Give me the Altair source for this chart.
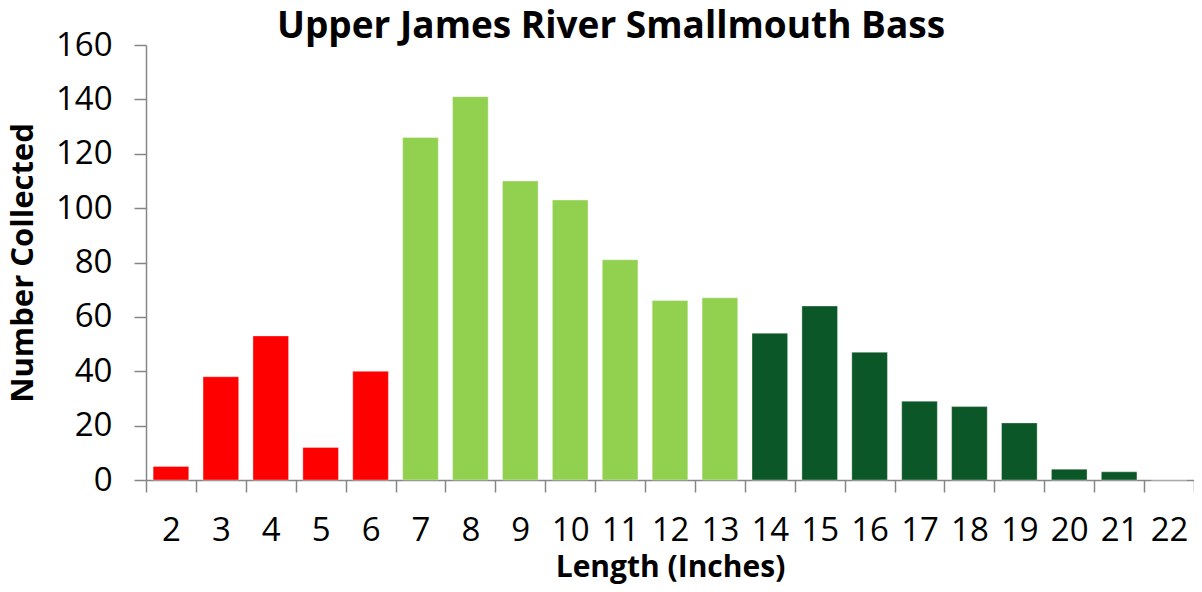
import altair as alt
import pandas as pd

lengths = [str(i) for i in range(2, 23)]
counts = [5, 38, 53, 12, 40, 126, 141, 110, 103, 81, 66, 67, 54, 64, 47, 29, 27, 21, 4, 3, 0]
groups = ["small"] * 5 + ["mid"] * 7 + ["large"] * 9
group_names = ["small", "mid", "large"]
group_colors = ["#FF0000", "#92D050", "#0C5727"]

df = pd.DataFrame({"Length": lengths, "Count": counts, "Group": groups})

FONT = "Open Sans"

chart = alt.Chart(df).mark_bar(stroke="white", strokeOpacity=0.35, strokeWidth=1,
                               width=alt.RelativeBandSize(0.714)).encode(
    x=alt.X("Length:N", sort=lengths,
            scale=alt.Scale(paddingInner=0, paddingOuter=0),
            axis=alt.Axis(title="Length (Inches)", labelAngle=0, tickBand="extent",
                          labelFontSize=33, titleFontSize=30, titleFontWeight="bold",
                          labelPadding=22, titlePadding=5, tickSize=12,
                          labelOverlap=False, labelFlush=False,
                          domainColor="#868686", tickColor="#868686",
                          domainWidth=1.5, tickWidth=1.5,
                          labelColor="black", titleColor="black")),
    y=alt.Y("Count:Q", scale=alt.Scale(domain=[0, 160], nice=False),
            axis=alt.Axis(title="Number Collected", values=list(range(0, 161, 20)),
                          grid=False, labelFontSize=33, titleFontSize=31,
                          titleFontWeight="bold", labelPadding=22, titlePadding=16, tickSize=12,
                          labelFlush=False,
                          domainColor="#868686", tickColor="#868686",
                          domainWidth=1.5, tickWidth=1.5,
                          labelColor="black", titleColor="black")),
    color=alt.Color("Group:N", scale=alt.Scale(domain=group_names, range=group_colors), legend=None),
).properties(
    width=1048,
    height=435,
    title=alt.TitleParams("Upper James River Smallmouth Bass", fontSize=37, fontWeight="bold",
                          font=FONT, dx=-59, dy=23, offset=6, color="black"),
    autosize=alt.AutoSizeParams(type="none"),
    padding={"left": 138, "top": 37, "right": 0, "bottom": 104},
).configure(font=FONT).configure_view(stroke=None).configure_axis(labelFont=FONT, titleFont=FONT)

chart.save("out.html", embed_options={"renderer": "svg", "actions": False})
